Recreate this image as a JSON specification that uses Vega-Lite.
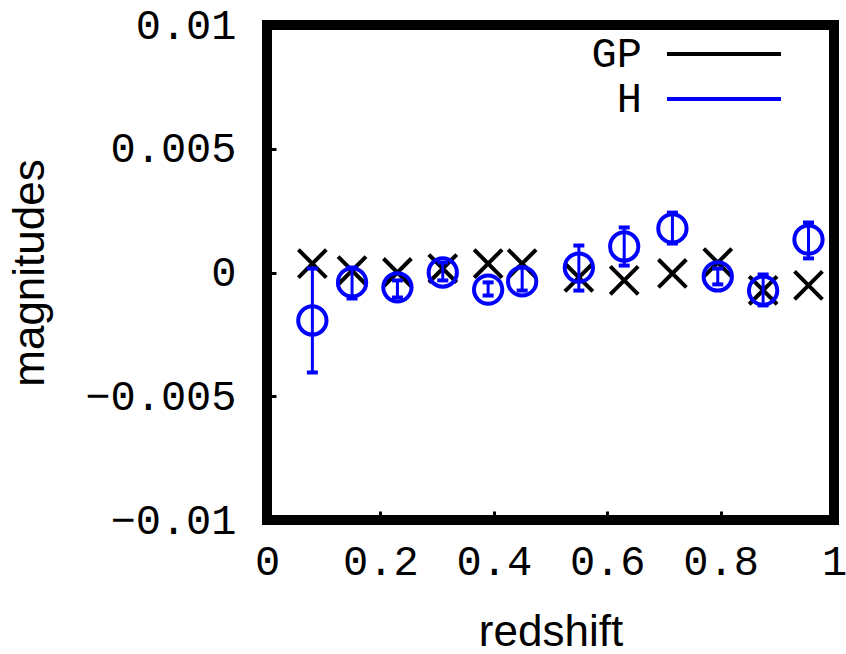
{
  "$schema": "https://vega.github.io/schema/vega-lite/v6.json",
  "autosize": {"type": "none"},
  "padding": {"left": 267, "top": 25, "right": 12, "bottom": 134},
  "width": 567,
  "height": 495,
  "background": "white",
  "data": {
    "values": [
      {"series": "GP", "z": 0.08, "mag": 0.00036},
      {"series": "GP", "z": 0.15, "mag": 0.00008},
      {"series": "GP", "z": 0.23, "mag": 0.0},
      {"series": "GP", "z": 0.31, "mag": 0.00016},
      {"series": "GP", "z": 0.39, "mag": 0.00036},
      {"series": "GP", "z": 0.45, "mag": 0.00036},
      {"series": "GP", "z": 0.55, "mag": -0.0002},
      {"series": "GP", "z": 0.63, "mag": -0.00032},
      {"series": "GP", "z": 0.715, "mag": -0.00004},
      {"series": "GP", "z": 0.795, "mag": 0.0004},
      {"series": "GP", "z": 0.875, "mag": -0.00072},
      {"series": "GP", "z": 0.955, "mag": -0.00052},
      {"series": "H", "z": 0.08, "mag": -0.00194, "lo": -0.00404, "hi": 0.00016},
      {"series": "H", "z": 0.15, "mag": -0.0004, "lo": -0.00105, "hi": 0.0002},
      {"series": "H", "z": 0.23, "mag": -0.0006, "lo": -0.00101, "hi": -0.00032},
      {"series": "H", "z": 0.31, "mag": 0.0, "lo": -0.00032, "hi": 0.0004},
      {"series": "H", "z": 0.39, "mag": -0.00069, "lo": -0.00093, "hi": -0.0004},
      {"series": "H", "z": 0.45, "mag": -0.00036, "lo": -0.00073, "hi": 0.0002},
      {"series": "H", "z": 0.55, "mag": 0.0002, "lo": -0.00073, "hi": 0.00109},
      {"series": "H", "z": 0.63, "mag": 0.00105, "lo": 0.00028, "hi": 0.00182},
      {"series": "H", "z": 0.715, "mag": 0.00178, "lo": 0.00117, "hi": 0.00242},
      {"series": "H", "z": 0.795, "mag": -0.00016, "lo": -0.00048, "hi": 0.00016},
      {"series": "H", "z": 0.875, "mag": -0.00073, "lo": -0.00133, "hi": -0.00008},
      {"series": "H", "z": 0.955, "mag": 0.00133, "lo": 0.00057, "hi": 0.00202}
    ]
  },
  "encoding": {
    "x": {
      "field": "z", "type": "quantitative",
      "scale": {"domain": [0, 1], "nice": false, "zero": false},
      "axis": {"title": "redshift", "values": [0, 0.2, 0.4, 0.6, 0.8, 1], "format": "~g"}
    },
    "color": {
      "field": "series", "type": "nominal",
      "scale": {"domain": ["GP", "H"], "range": ["#000000", "#0000ff"]},
      "legend": {
        "title": null,
        "orient": "none",
        "legendX": 436,
        "legendY": 8,
        "symbolType": "M-4,0H4",
        "symbolSize": 812,
        "symbolStrokeWidth": 4,
        "symbolOpacity": 1,
        "symbolFillColor": "transparent",
        "labelAlign": "right",
        "labelOffset": -103,
        "labelFont": "Liberation Mono",
        "labelFontSize": 42,
        "labelColor": "black",
        "rowPadding": 3
      }
    }
  },
  "layer": [
    {
      "transform": [{"filter": "datum.series === 'GP'"}],
      "mark": {
        "type": "point",
        "shape": "M-1,-1L1,1M-1,1L1,-1",
        "filled": false,
        "size": 780,
        "strokeWidth": 4,
        "opacity": 1
      },
      "encoding": {
        "y": {"field": "mag", "type": "quantitative", "title": "magnitudes"}
      }
    },
    {
      "transform": [{"filter": "datum.series === 'H'"}],
      "mark": {
        "type": "errorbar",
        "thickness": 3,
        "opacity": 1,
        "rule": {"opacity": 1, "strokeWidth": 3},
        "ticks": {"size": 11, "thickness": 4, "opacity": 1}
      },
      "encoding": {
        "y": {"field": "lo", "type": "quantitative", "title": "magnitudes"},
        "y2": {"field": "hi"}
      }
    },
    {
      "transform": [{"filter": "datum.series === 'H'"}],
      "mark": {
        "type": "point",
        "shape": "circle",
        "filled": false,
        "size": 800,
        "strokeWidth": 4,
        "opacity": 1
      },
      "encoding": {
        "y": {
          "field": "mag", "type": "quantitative", "title": "magnitudes",
          "scale": {"domain": [-0.01, 0.01], "nice": false, "zero": false},
          "axis": {"title": "magnitudes", "values": [-0.01, -0.005, 0, 0.005, 0.01], "format": "~g"}
        }
      }
    }
  ],
  "config": {
    "view": {"stroke": "black", "strokeWidth": 10},
    "axis": {
      "domain": false,
      "grid": false,
      "ticks": true,
      "tickSize": -9,
      "tickWidth": 3,
      "tickColor": "black",
      "labelFlush": false,
      "labelFont": "Liberation Mono",
      "labelFontSize": 42,
      "labelColor": "black",
      "titleFont": "Liberation Sans",
      "titleFontSize": 44,
      "titleFontWeight": "normal",
      "titleColor": "black"
    },
    "axisX": {"labelPadding": 30, "titlePadding": 28},
    "axisY": {"labelPadding": 40, "titlePadding": 32}
  }
}
